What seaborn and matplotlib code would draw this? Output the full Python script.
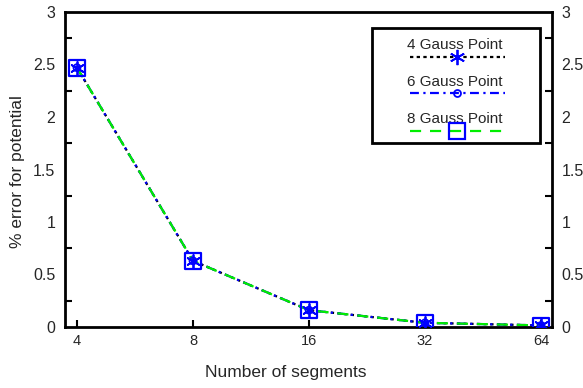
import numpy as np
import pandas as pd
import seaborn as sns
import matplotlib
matplotlib.use("Agg")
import matplotlib.pyplot as plt
from matplotlib.lines import Line2D
from matplotlib.ticker import FixedLocator, NullFormatter

segments = [4, 8, 16, 32, 64]
gauss4 = [2.47, 0.63, 0.16, 0.04, 0.015]
gauss6 = [2.47, 0.63, 0.16, 0.04, 0.015]
gauss8 = [2.47, 0.63, 0.16, 0.04, 0.015]
labels = ["4 Gauss Point", "6 Gauss Point", "8 Gauss Point"]
yticks = [0, 0.5, 1, 1.5, 2, 2.5, 3]
yticklabels = ["0", "0.5", "1", "1.5", "2", "2.5", "3"]

sns.set_theme(style="white")
plt.rcParams['font.family'] = ['Liberation Sans', 'DejaVu Sans']

fig = plt.figure(figsize=(5.83, 3.88), dpi=100)
ax = fig.add_axes([65/583, 61/388, (552-65)/583, (327-12)/388])
ax.set_xscale('log', base=2)

df = pd.DataFrame({"segments": segments, "g4": gauss4, "g6": gauss6, "g8": gauss8})

styles = [
    dict(y="g4", color="black", ls=(0, (1.5, 1.5))),
    dict(y="g6", color="blue", ls=(0, (4, 2, 1, 2))),
    dict(y="g8", color="#00ee00", ls=(0, (5, 4))),
]
for st in styles:
    sns.lineplot(data=df, x="segments", y=st["y"], ax=ax, color=st["color"],
                 linestyle=st["ls"], linewidth=1.6, legend=False)

# markers
sns.scatterplot(data=df, x="segments", y="g8", ax=ax, marker="s", s=130,
                facecolor="none", edgecolor="blue", linewidth=1.6, legend=False, zorder=5)
sns.scatterplot(data=df, x="segments", y="g4", ax=ax, marker=(6, 2, 0), s=90,
                color="blue", linewidth=1.3, legend=False, zorder=6)
sns.scatterplot(data=df, x="segments", y="g6", ax=ax, marker="o", s=25,
                facecolor="none", edgecolor="blue", linewidth=1.3, legend=False, zorder=6)

ax.set_xlim(3.724, 68.3)
ax.set_ylim(0, 3)
ax.set_xticks(segments)
ax.set_xticklabels([str(s) for s in segments])
ax.xaxis.set_minor_locator(FixedLocator([]))
ax.set_yticks(yticks)
ax.set_yticklabels(yticklabels)
ax.yaxis.set_minor_locator(FixedLocator([0.25, 0.75, 1.25, 1.75, 2.25, 2.75]))
ax.yaxis.set_minor_formatter(NullFormatter())

ax.tick_params(axis='y', which='major', length=0, labelsize=11.5, pad=7,
               left=True, right=True, labelleft=True, labelright=True)
ax.tick_params(axis='y', which='minor', direction='in', length=5, width=1.5,
               left=True, right=True, color='black')
ax.tick_params(axis='x', which='major', direction='in', length=5, width=1.5,
               bottom=True, top=False, labelsize=10.5, pad=5, color='black')
for sp in ax.spines.values():
    sp.set_visible(True)
    sp.set_color('black')
    sp.set_linewidth(2)

ax.set_xlabel("Number of segments", fontsize=12.5)
ax.set_ylabel("% error for potential", fontsize=12.5)
ax.xaxis.set_label_coords((286 - 65) / (552 - 65), -(372 - 327) / (327 - 12))
ax.yaxis.set_label_coords(-(65 - 18) / (552 - 65), (327 - 172) / (327 - 12))
ax.xaxis.label.set_va('center')
ax.yaxis.label.set_va('center')

# legend (MATLAB style: text above line sample)
def fx(px):
    return (px - 65) / (552 - 65)
def fy(py):
    return (327 - py) / (327 - 12)

box = plt.Rectangle((fx(372), fy(143)), fx(540) - fx(372), fy(28) - fy(143),
                    transform=ax.transAxes, facecolor='white', edgecolor='black',
                    linewidth=2, zorder=10)
ax.add_patch(box)
rows = [(45, 57), (82, 93), (119, 131)]
mk = [dict(marker=(6, 2, 0), markersize=11, mfc='blue', mec='blue', mew=1.3),
      dict(marker='o', markersize=5, mfc='none', mec='blue', mew=1.3),
      dict(marker='s', markersize=12, mfc='none', mec='blue', mew=1.6)]
for i, (ty, ly) in enumerate(rows):
    ax.text(fx(455), fy(ty), labels[i], transform=ax.transAxes, ha='center', va='center',
            fontsize=11, zorder=11)
    ax.add_line(Line2D([fx(410), fx(505)], [fy(ly), fy(ly)], transform=ax.transAxes,
                       color=styles[i]["color"], linestyle=styles[i]["ls"], linewidth=1.6, zorder=11))
    ax.add_line(Line2D([fx(457)], [fy(ly)], transform=ax.transAxes, linestyle='none',
                       zorder=12, **mk[i]))

fig.savefig("out.png", dpi=100)
